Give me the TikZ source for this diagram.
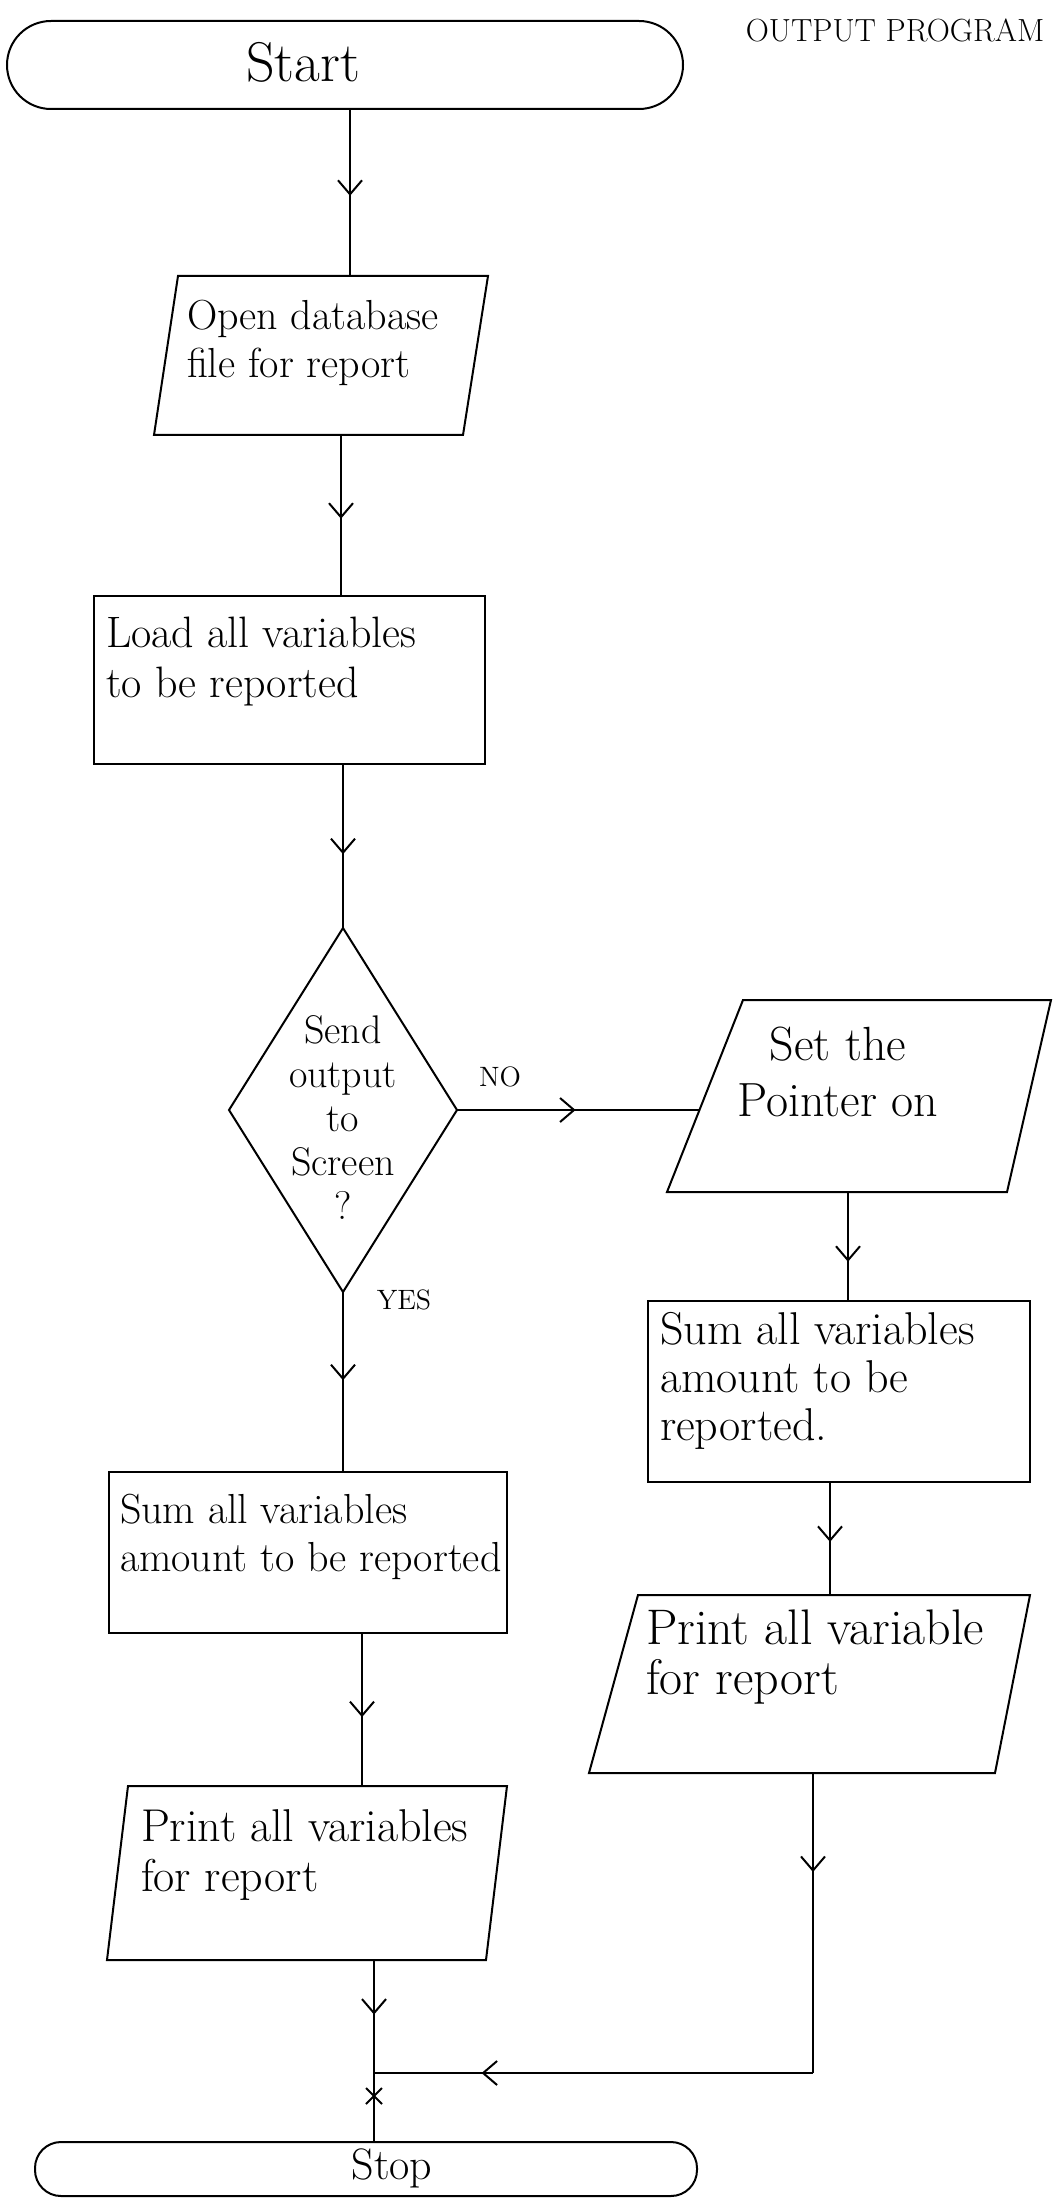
\documentclass[tikz,border=0pt]{standalone}
\usetikzlibrary{arrows.meta,decorations.markings}
\begin{document}
\begin{tikzpicture}[x=0.5pt,y=-0.5pt, line width=1pt,
  box/.style={draw, line width=1pt},
  flow/.style={line width=1pt},
  midarrow/.style={postaction={decorate},decoration={markings,mark=at position #1 with {\arrow{Straight Barb[length=7pt,width=12pt,line width=1pt]}}}},
  lbl/.style 2 args={inner sep=0pt, align=left, font=\fontsize{#1}{#2}\selectfont},
  clbl/.style 2 args={inner sep=0pt, align=center, font=\fontsize{#1}{#2}\selectfont},
  ]
\fill[white] (0,0) rectangle (1057,2198);
\useasboundingbox (0,0) rectangle (1057,2198);

% title
\node[clbl={16}{18}] (title) at (895,30) {OUTPUT PROGRAM};

% Start
\draw[box, rounded corners=22pt] (7,21) rectangle (683,109);
\node[clbl={28}{32}] (start) at (303,62) {Start};
\coordinate (s1) at (350,109);

% Open database
\draw[box] (178,276) -- (488,276) -- (463,435) -- (154,435) -- cycle;
\node[lbl={21}{24}, anchor=west] (p1) at (186,343) {Open database\\file for report};
\coordinate (p1t) at (350,276);
\coordinate (p1b) at (341,435);

% Load
\draw[box] (94,596) rectangle (485,764);
\node[lbl={22}{25}, anchor=west] (r2) at (105,662) {Load all variables\\to be reported};
\coordinate (r2t) at (341,596);
\coordinate (r2b) at (343,764);

% Decision
\draw[box] (343,928) -- (457,1110) -- (343,1292) -- (229,1110) -- cycle;
\node[clbl={20}{22}] (dec) at (343,1118) {Send\\output\\to\\Screen\\?};
\coordinate (dt) at (343,928);
\coordinate (dr) at (457,1110);
\coordinate (db) at (343,1292);
\node[clbl={14}{16}] (no) at (500,1077) {NO};
\node[clbl={14}{16}] (yes) at (404,1300) {YES};

% Set the Pointer on
\draw[box] (743,1000) -- (1051,1000) -- (1007,1192) -- (667,1192) -- cycle;
\node[clbl={24}{28}] (pr) at (838,1072) {Set the\\Pointer on};
\coordinate (prl) at (699,1110);
\coordinate (prb) at (848,1192);

% Sum right
\draw[box] (648,1301) rectangle (1030,1482);
\node[lbl={23}{24}, anchor=west] (rr) at (659,1381) {Sum all variables\\amount to be\\reported.};
\coordinate (rrt) at (848,1301);
\coordinate (rrb) at (830,1482);

% Print right
\draw[box] (638,1595) -- (1030,1595) -- (995,1773) -- (589,1773) -- cycle;
\node[lbl={25}{25}, anchor=west] (p2) at (645,1657) {Print all variable\\for report};
\coordinate (p2t) at (830,1595);
\coordinate (p2b) at (813,1773);

% Sum left
\draw[box] (109,1472) rectangle (507,1633);
\node[lbl={21}{24}, anchor=west] (lr) at (119,1537) {Sum all variables\\amount to be reported};
\coordinate (lrt) at (343,1472);
\coordinate (lrb) at (362,1633);

% Print left
\draw[box] (128,1786) -- (507,1786) -- (486,1960) -- (107,1960) -- cycle;
\node[lbl={23}{25}, anchor=west] (lp) at (140,1855) {Print all variables\\for report};
\coordinate (lpt) at (362,1786);
\coordinate (lpb) at (374,1960);

% Stop
\draw[box, rounded corners=13pt] (35,2142) rectangle (697,2196);
\node[clbl={22}{24}] (stop) at (392,2168) {Stop};
\coordinate (st) at (374,2142);

% connectors
\draw[flow, midarrow=0.52] (s1) -- (p1t);
\draw[flow, midarrow=0.52] (p1b) -- (r2t);
\draw[flow, midarrow=0.55] (r2b) -- (dt);
\draw[flow, midarrow=0.49] (dr) -- (prl);
\draw[flow, midarrow=0.64] (prb) -- (rrt);
\draw[flow, midarrow=0.53] (rrb) -- (p2t);
\draw[flow, midarrow=0.49] (db) -- (lrt);
\draw[flow, midarrow=0.55] (lrb) -- (lpt);
\draw[flow, midarrow=0.30] (lpb) -- (st);
\coordinate (corner) at (813,2073);
\coordinate (junc) at (374,2073);
\draw[flow, midarrow=0.33] (p2b) -- (corner);
\draw[flow, midarrow=0.755] (corner) -- (junc);
% small cross mark on the line
\draw[flow] (366,2088) -- (382,2104) (366,2104) -- (382,2088);
\end{tikzpicture}
\end{document}
